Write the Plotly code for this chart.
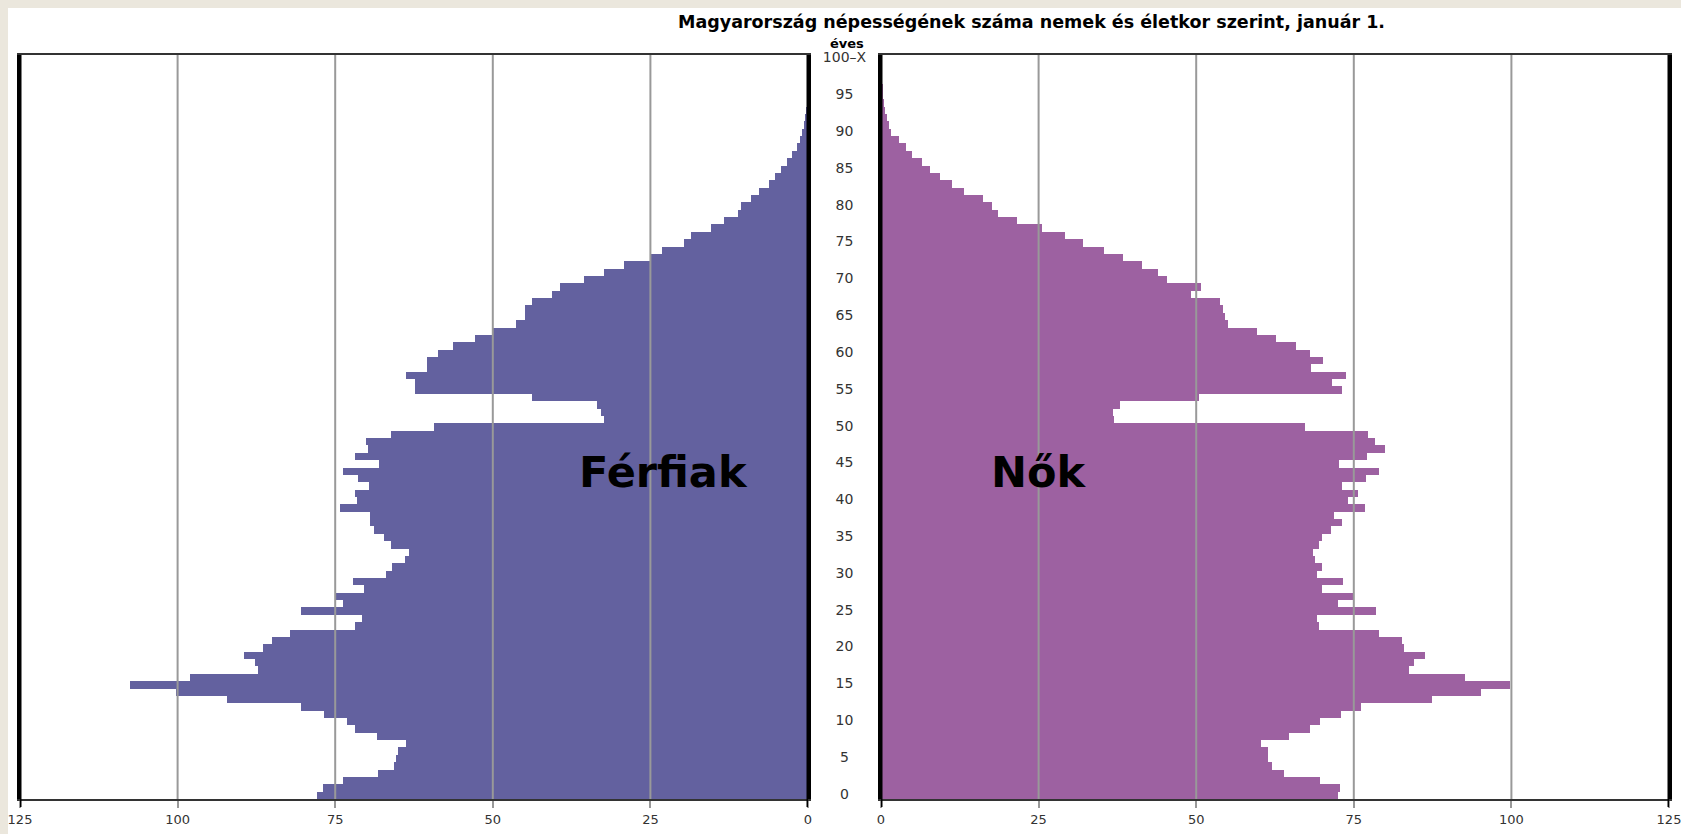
import plotly.graph_objects as go

# korév (0 ... 100-X)
ages = list(range(101))

# ezer fő, január 1.
ferfiak = [
    77.9, 77.0, 73.8, 68.2, 65.7, 65.3, 65.1, 63.7, 68.4, 71.8,
    73.2, 76.8, 80.5, 92.1, 100.3, 107.6, 98.0, 87.2, 87.7, 89.4,
    86.4, 85.0, 82.1, 71.9, 70.8, 80.5, 73.8, 75.1, 70.5, 72.2,
    67.0, 66.0, 64.0, 63.3, 66.2, 67.3, 68.9, 69.5, 69.5, 74.2,
    71.6, 71.9, 69.6, 71.4, 73.8, 68.1, 71.8, 69.8, 70.1, 66.2,
    59.4, 32.4, 32.9, 33.4, 43.8, 62.3, 62.3, 63.7, 60.5, 60.5,
    58.7, 56.3, 52.9, 50.0, 46.3, 44.9, 44.9, 43.8, 40.6, 39.3,
    35.6, 32.4, 29.2, 24.9, 23.1, 19.7, 18.5, 15.4, 13.4, 11.1,
    10.6, 9.0, 7.8, 6.2, 5.2, 4.3, 3.4, 2.5, 1.8, 1.2,
    0.9, 0.7, 0.5, 0.35, 0.15, 0.1, 0.07, 0.05, 0.03, 0.02,
    0.05,
]

nok = [
    72.5, 72.8, 69.6, 63.9, 62.1, 61.4, 61.4, 60.3, 64.7, 68.0,
    69.6, 73.0, 76.1, 87.4, 95.1, 99.8, 92.6, 83.8, 84.5, 86.3,
    82.9, 82.6, 79.0, 69.5, 69.2, 78.5, 72.5, 74.8, 70.0, 73.3,
    69.1, 69.9, 68.8, 68.6, 69.5, 70.0, 71.4, 73.1, 71.8, 76.8,
    74.0, 75.6, 73.2, 77.0, 79.0, 72.7, 77.1, 80.0, 78.4, 77.3,
    67.2, 37.0, 36.8, 37.9, 50.5, 73.2, 71.5, 73.8, 68.2, 70.1,
    68.0, 65.9, 62.7, 59.6, 55.1, 54.6, 54.2, 53.7, 49.2, 50.8,
    45.3, 44.0, 41.4, 38.4, 35.3, 32.0, 29.2, 25.6, 21.6, 18.6,
    17.6, 16.2, 13.2, 11.3, 9.4, 7.7, 6.5, 4.9, 3.9, 2.8,
    1.6, 1.2, 0.9, 0.6, 0.4, 0.3, 0.2, 0.15, 0.1, 0.07,
    0.1,
]

# tengelyfeliratok
age_tick_vals = list(range(0, 101, 5))
age_tick_text = [str(a) for a in range(0, 100, 5)] + ['100–X']
x_tick_vals = [0, 25, 50, 75, 100, 125]
x_tick_text = ['0', '25', '50', '75', '100', '125']
grid_vals = [25, 50, 75, 100]

# a lap 8 px-es bézs kerete a body margója, az ábra ezen belül van
W, H = 1673, 826
px = lambda p: p / W
py = lambda p: 1 - p / H

left_dom = [px(12), px(800)]
right_dom = [px(873), px(1661)]
mid_dom = [px(800), px(873)]
y_dom = [py(791), py(47)]

age_font = dict(family='DejaVu Sans', size=14, color='#333333')
tick_font = dict(family='DejaVu Sans', size=13, color='#333333')

fig = go.Figure()

fig.add_trace(go.Bar(
    x=ferfiak, y=ages, orientation='h', name='Férfiak',
    marker=dict(color='#63619f', line=dict(width=0)),
    xaxis='x', yaxis='y', width=1
))
fig.add_trace(go.Bar(
    x=nok, y=ages, orientation='h', name='Nők',
    marker=dict(color='#9d61a1', line=dict(width=0)),
    xaxis='x2', yaxis='y2', width=1
))
fig.add_trace(go.Scatter(
    x=[0.5] * len(age_tick_vals), y=age_tick_vals, text=age_tick_text,
    mode='text', textfont=age_font, xaxis='x3', yaxis='y',
    cliponaxis=False, hoverinfo='skip'
))

xaxis_common = dict(
    tickvals=x_tick_vals, ticktext=x_tick_text, tickfont=tick_font,
    showgrid=False, zeroline=False, showline=True, mirror=True,
    linecolor='#333333', linewidth=2, ticks='outside', ticklen=7,
    tickcolor='#999999', tickwidth=2, automargin=False, fixedrange=True,
    ticklabeloverflow='allow'
)
yaxis_common = dict(
    range=[-0.5, 100.5], domain=y_dom, showticklabels=False, ticks='',
    showgrid=False, zeroline=False, showline=True, mirror=True,
    linecolor='black', linewidth=3, automargin=False, fixedrange=True
)

fig.update_layout(
    xaxis=dict(domain=left_dom, range=[125, 0], anchor='y', **xaxis_common),
    xaxis2=dict(domain=right_dom, range=[0, 125], anchor='y2', **xaxis_common),
    xaxis3=dict(domain=mid_dom, range=[0, 1], visible=False, anchor='y'),
    yaxis=dict(anchor='x', **yaxis_common),
    yaxis2=dict(anchor='x2', matches='y', **yaxis_common),
    width=W, height=H,
    margin=dict(l=0, r=0, t=0, b=0),
    paper_bgcolor='white',
    plot_bgcolor='white',
    bargap=0,
    showlegend=False,
    template='none',
)

# rácsvonalak a sávok fölött
for xr in ['x', 'x2']:
    for v in grid_vals:
        fig.add_shape(type='line', xref=xr, yref='paper',
                      x0=v, x1=v, y0=y_dom[0], y1=y_dom[1],
                      line=dict(color='#999999', width=2), layer='above')
    for v in [0, 125]:
        fig.add_shape(type='line', xref=xr, yref='paper',
                      x0=v, x1=v, y0=py(799), y1=y_dom[1],
                      line=dict(color='black', width=3), layer='above')

fig.add_annotation(
    text='<b>Magyarország népességének száma nemek és életkor szerint, január 1.</b>',
    x=px(1023), y=py(14), xref='paper', yref='paper', showarrow=False,
    xanchor='center', yanchor='middle',
    font=dict(family='DejaVu Sans', size=17.5, color='black')
)
fig.add_annotation(
    text='<b>éves</b>', x=px(839), y=py(35), xref='paper', yref='paper',
    showarrow=False, xanchor='center', yanchor='middle',
    font=dict(family='DejaVu Sans', size=13, color='black')
)
fig.add_annotation(
    text='<b>Férfiak</b>', x=px(655), y=py(464), xref='paper', yref='paper',
    showarrow=False, xanchor='center', yanchor='middle',
    font=dict(family='DejaVu Sans', size=43, color='black')
)
fig.add_annotation(
    text='<b>Nők</b>', x=px(1031), y=py(464), xref='paper', yref='paper',
    showarrow=False, xanchor='center', yanchor='middle',
    font=dict(family='DejaVu Sans', size=43, color='black')
)

fig.write_html(
    'out.html',
    post_script="document.body.style.background='#ebe7dd';"
                "document.body.style.margin='8px 0 0 8px';"
                "document.body.style.overflow='hidden';"
)
